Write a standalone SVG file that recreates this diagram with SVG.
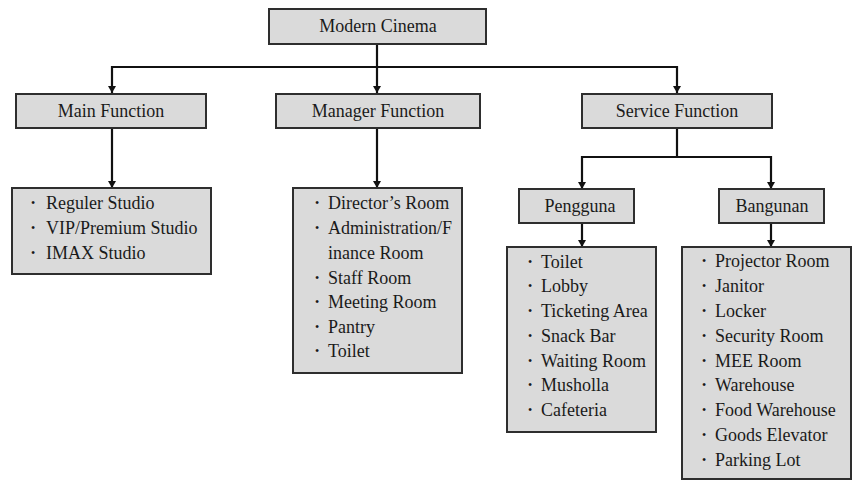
<svg xmlns="http://www.w3.org/2000/svg" width="853" height="481" viewBox="0 0 853 481">
<style>
.box{fill:#dadada;stroke:#2e2e2e;stroke-width:2}
.t{font-family:"Liberation Serif","Times New Roman",serif;font-size:18px;fill:#1a1a1a}
.b{font-family:"Liberation Serif","Times New Roman",serif;font-size:12px;fill:#1a1a1a}
.h{text-anchor:middle}
.ln{fill:none;stroke:#111;stroke-width:2.2}
</style>
<defs>
<marker id="arr" markerUnits="userSpaceOnUse" markerWidth="10" markerHeight="10" viewBox="0 0 10 10" refX="9" refY="5" orient="auto">
<path d="M2,1 L9,5 L2,9 Z" fill="#111"/>
</marker>
</defs>
<rect width="853" height="481" fill="#fff"/>
<g id="connectors">
<path class="ln" d="M377,44 V93" marker-end="url(#arr)"/>
<path class="ln" d="M112,67 H677"/>
<path class="ln" d="M112,66 V93" marker-end="url(#arr)"/>
<path class="ln" d="M677,66 V93" marker-end="url(#arr)"/>
<path class="ln" d="M112,128 V188" marker-end="url(#arr)"/>
<path class="ln" d="M377,128 V188" marker-end="url(#arr)"/>
<path class="ln" d="M677,128 V157"/>
<path class="ln" d="M582,157 H771"/>
<path class="ln" d="M582,156 V189" marker-end="url(#arr)"/>
<path class="ln" d="M771,156 V189" marker-end="url(#arr)"/>
<path class="ln" d="M582,223 V247" marker-end="url(#arr)"/>
<path class="ln" d="M771,223 V247" marker-end="url(#arr)"/>
</g>
<g id="modern-cinema">
<rect class="box" x="269" y="9" width="217" height="35"/>
<text class="t h" x="378" y="32">Modern Cinema</text>
</g>
<g id="main-function">
<rect class="box" x="16" y="94" width="190" height="34"/>
<text class="t h" x="111" y="117">Main Function</text>
</g>
<g id="manager-function">
<rect class="box" x="276" y="94" width="204" height="34"/>
<text class="t h" x="378" y="117">Manager Function</text>
</g>
<g id="service-function">
<rect class="box" x="582" y="94" width="190" height="34"/>
<text class="t h" x="677" y="117">Service Function</text>
</g>
<g id="pengguna">
<rect class="box" x="519" y="189" width="115" height="34"/>
<text class="t h" x="580" y="212">Pengguna</text>
</g>
<g id="bangunan">
<rect class="box" x="719" y="189" width="105" height="34"/>
<text class="t h" x="772" y="212">Bangunan</text>
</g>
<g id="main-list">
<rect class="box" x="12" y="188" width="199" height="86"/>
<text class="b" x="31" y="207">•</text><text class="t" x="46" y="209">Reguler Studio</text>
<text class="b" x="31" y="232">•</text><text class="t" x="46" y="234">VIP/Premium Studio</text>
<text class="b" x="31" y="257">•</text><text class="t" x="46" y="259">IMAX Studio</text>
</g>
<g id="manager-list">
<rect class="box" x="293" y="188" width="169" height="185"/>
<text class="b" x="315" y="207">•</text><text class="t" x="328" y="209">Director’s Room</text>
<text class="b" x="315" y="232">•</text><text class="t" x="328" y="234">Administration/F</text>
<text class="t" x="328" y="259">inance Room</text>
<text class="b" x="315" y="282">•</text><text class="t" x="328" y="284">Staff Room</text>
<text class="b" x="315" y="306">•</text><text class="t" x="328" y="308">Meeting Room</text>
<text class="b" x="315" y="331">•</text><text class="t" x="328" y="333">Pantry</text>
<text class="b" x="315" y="355">•</text><text class="t" x="328" y="357">Toilet</text>
</g>
<g id="pengguna-list">
<rect class="box" x="507" y="247" width="149" height="185"/>
<text class="b" x="528" y="266">•</text><text class="t" x="541" y="268">Toilet</text>
<text class="b" x="528" y="290">•</text><text class="t" x="541" y="292">Lobby</text>
<text class="b" x="528" y="315">•</text><text class="t" x="541" y="317">Ticketing Area</text>
<text class="b" x="528" y="340">•</text><text class="t" x="541" y="342">Snack Bar</text>
<text class="b" x="528" y="365">•</text><text class="t" x="541" y="367">Waiting Room</text>
<text class="b" x="528" y="389">•</text><text class="t" x="541" y="391">Musholla</text>
<text class="b" x="528" y="414">•</text><text class="t" x="541" y="416">Cafeteria</text>
</g>
<g id="bangunan-list">
<rect class="box" x="682" y="247" width="169" height="232"/>
<text class="b" x="702" y="265">•</text><text class="t" x="715" y="267">Projector Room</text>
<text class="b" x="702" y="290">•</text><text class="t" x="715" y="292">Janitor</text>
<text class="b" x="702" y="315">•</text><text class="t" x="715" y="317">Locker</text>
<text class="b" x="702" y="340">•</text><text class="t" x="715" y="342">Security Room</text>
<text class="b" x="702" y="365">•</text><text class="t" x="715" y="367">MEE Room</text>
<text class="b" x="702" y="389">•</text><text class="t" x="715" y="391">Warehouse</text>
<text class="b" x="702" y="414">•</text><text class="t" x="715" y="416">Food Warehouse</text>
<text class="b" x="702" y="439">•</text><text class="t" x="715" y="441">Goods Elevator</text>
<text class="b" x="702" y="464">•</text><text class="t" x="715" y="466">Parking Lot</text>
</g>
</svg>
